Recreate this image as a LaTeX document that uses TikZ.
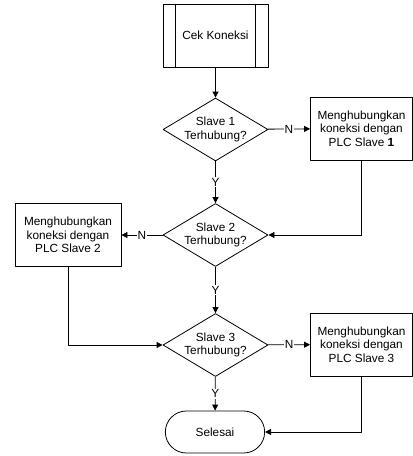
\documentclass[tikz,border=0pt]{standalone}
\usepackage{fontspec}
\setmainfont{Liberation Sans}
\usetikzlibrary{shapes.geometric,shapes.misc,arrows.meta,positioning}
\begin{document}
\begin{tikzpicture}[x=1pt,y=-1pt,line width=0.8pt,line join=round,font=\fontsize{11.8}{13.3}\selectfont,>={Triangle[length=6pt,width=6pt]}]
	\useasboundingbox (0,0) rectangle (413,456);
	\tikzset{kotak/.style={draw,rectangle,minimum height=63pt,align=center,inner sep=0pt},
		wajik/.style={draw,diamond,aspect=1.67,minimum width=105pt,minimum height=63pt,inner sep=0pt,align=center},
		ujung/.style={draw,rounded rectangle,minimum width=106pt,minimum height=42pt},
		lbl/.style={fill=white,inner sep=1pt}}
	\node[kotak,minimum width=105pt] (cek) at (215.5,35.5) {Cek Koneksi};
	\foreach \s/\a/\b in {13/north west/south west,-13/north east/south east}{\draw ([xshift=\s pt]cek.\a) -- ([xshift=\s pt]cek.\b);}
	\node[wajik] (s1) at (215.5,129.5) {Slave 1\\Terhubung?};
	\node[wajik] (s2) at (215.5,235) {Slave 2\\Terhubung?};
	\node[wajik] (s3) at (215.5,345) {Slave 3\\Terhubung?};
	\node[kotak,minimum width=102pt] (p1) at (361.5,128.5) {Menghubungkan\\koneksi dengan\\PLC Slave \textbf{1}};
	\node[kotak,minimum width=106pt] (p2) at (68,235) {Menghubungkan\\koneksi dengan\\PLC Slave 2};
	\node[kotak,minimum width=102pt] (p3) at (361.5,344.5) {Menghubungkan\\koneksi dengan\\PLC Slave 3};
	\node[ujung] (end) at (215,432) {Selesai};
	\draw[->] (cek) -- (s1);
	\draw[->] (s1) -- node[lbl] {Y} (s2);
	\draw[->] (s2) -- node[lbl] {Y} (s3);
	\draw[->] (s3) -- node[lbl] {Y} (end);
	\draw[->] (s1) -- node[lbl] {N} (p1);
	\draw[->] (s2) -- node[lbl] {N} (p2);
	\draw[->] (s3) -- node[lbl] {N} (p3);
	\draw[->] (p1.south) |- (s2.east);
	\draw[->] (p2.south) |- (s3.west);
	\draw[->] (p3.south) |- (end.east);
\end{tikzpicture}
\end{document}
